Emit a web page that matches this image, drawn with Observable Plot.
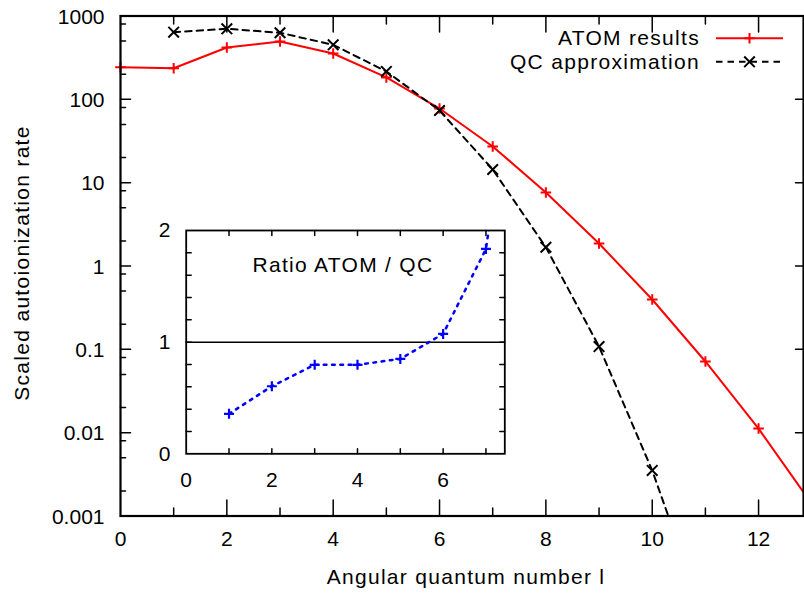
<!DOCTYPE html>
<html>
<head>
<meta charset="utf-8">
<script src="https://cdn.jsdelivr.net/npm/d3@7"></script>
<script src="https://cdn.jsdelivr.net/npm/@observablehq/plot@0.6"></script>
<style>
  body { margin: 0; background: #fff; }
  #wrap { position: relative; width: 804px; height: 593px; overflow: hidden; background: #fff; }
  #wrap svg { position: absolute; }
  .legend text { letter-spacing: 1.3px; }
</style>
</head>
<body>
<div id="wrap"></div>
<script>
// ---------------- data ----------------
const atomL = [0, 1, 2, 3, 4, 5, 6, 7, 8, 9, 10, 11, 12, 13];
const atomV = [243, 236, 419, 494, 355, 183, 77.6, 27.2, 7.62, 1.86, 0.396, 0.0715, 0.0112, 0.0014];
const qcL = [1, 2, 3, 4, 5, 6, 7, 8, 9, 10, 11];
const qcV = [640, 702, 629, 451, 216, 73.5, 14.4, 1.68, 0.108, 0.00352, 0.000055];
const ratioL = [1, 2, 3, 4, 5, 6, 7, 8];
const ratioV = [0.358, 0.605, 0.797, 0.797, 0.850, 1.074, 1.835, 4.5];

const seriesNames = ["ATOM results", "QC approximation"];
const insetTitle = "Ratio ATOM / QC";
const xTitle = "Angular quantum number l";
const yTitle = "Scaled autoionization rate";

const yTickValues = [0.001, 0.01, 0.1, 1, 10, 100, 1000];
const yTickLabels = ["0.001", "0.01", "0.1", "1", "10", "100", "1000"];
const yMinorMant = [2, 5, 8];
const xTickValues = [0, 2, 4, 6, 8, 10, 12];
const xAllTicks = [1, 2, 3, 4, 5, 6, 7, 8, 9, 10, 11, 12];

const insetXTickLabels = [0, 2, 4, 6];
const insetXTicks = [1, 2, 3, 4, 5, 6, 7];
const insetYTickLabels = [0, 1, 2];
const insetYTicks = [0.2, 0.4, 0.6, 0.8, 1, 1.2, 1.4, 1.6, 1.8];

// ---------------- styling ----------------
const RED = "#ff0000", BLACK = "#000000", BLUE = "#0000ff";
const fontFamily = '"Liberation Sans", Arial, Helvetica, sans-serif';
const xMax = 12.845, yMin = 0.001, yMax = 1000;
const ixMax = 7.44, iyMax = 2;

const atom = atomL.map((l, i) => ({l, v: atomV[i]}));
const qc = qcL.map((l, i) => ({l, v: qcV[i]}));
const ratio = ratioL.map((l, i) => ({l, v: ratioV[i]}));
const yTicks = yTickValues.map((v, i) => ({v, label: yTickLabels[i]}));
const yMinor = [];
for (let k = -3; k < 3; k++) for (const m of yMinorMant) yMinor.push(m * Math.pow(10, k));

const plusSym = (h) => ({draw(c) { c.moveTo(-h, 0); c.lineTo(h, 0); c.moveTo(0, -h); c.lineTo(0, h); }});
const timesSym = (h) => ({draw(c) { c.moveTo(-h, -h); c.lineTo(h, h); c.moveTo(-h, h); c.lineTo(h, -h); }});
const tickShape = {draw(c, l) { c.moveTo(0, 0); c.lineTo(0, -l); }};
const tk = (data, o) => Plot.vector(data, {shape: tickShape, anchor: "start", stroke: BLACK, strokeWidth: 1.5, ...o});

const inMain = d => d.l <= xMax && d.v >= yMin && d.v <= yMax;

// ---------------- main chart ----------------
const main = Plot.plot({
  width: 804, height: 593,
  marginLeft: 120, marginRight: 1, marginTop: 15.5, marginBottom: 77.5,
  x: {domain: [0, xMax], axis: null},
  y: {type: "log", domain: [yMin, yMax], axis: null},
  style: {fontFamily, fontSize: "21px", background: "transparent", overflow: "visible", color: BLACK},
  marks: [
    Plot.line(atom, {x: "l", y: "v", stroke: RED, strokeWidth: 2, clip: true}),
    Plot.line(qc, {x: "l", y: "v", stroke: BLACK, strokeWidth: 2, strokeDasharray: "6.5,5", clip: true}),
    Plot.dot(atom, {x: "l", y: "v", symbol: plusSym(5.3), fill: "none", stroke: RED, strokeWidth: 2, filter: inMain}),
    Plot.dot(qc, {x: "l", y: "v", symbol: timesSym(5.3), fill: "none", stroke: BLACK, strokeWidth: 2, filter: inMain}),
    // left ticks
    tk(yTickValues, {y: d => d, frameAnchor: "left", rotate: 90, length: 10}),
    tk(yMinor, {y: d => d, frameAnchor: "left", rotate: 90, length: 5}),
    // right ticks
    tk(yTickValues, {y: d => d, frameAnchor: "right", rotate: -90, length: 8}),
    // bottom ticks
    tk(xAllTicks, {x: d => d, frameAnchor: "bottom", rotate: 0, length: d => d % 2 === 0 ? 10 : 5}),
    // top ticks
    tk(xAllTicks, {x: d => d, frameAnchor: "top", rotate: 180, length: d => d % 2 === 0 ? 10 : 5}),
    // tick labels
    Plot.text(yTicks, {y: "v", text: "label", frameAnchor: "left", dx: -16, dy: 1, textAnchor: "end", lineAnchor: "middle", fontSize: 21}),
    Plot.text(xTickValues, {x: d => d, text: d => String(d), frameAnchor: "bottom", dy: 23, lineAnchor: "middle", fontSize: 21}),
    // titles
    Plot.text([xTitle], {text: d => d, frameAnchor: "bottom", dx: 4, dy: 61, textAnchor: "middle", lineAnchor: "middle", fontSize: 21}),
    Plot.text([yTitle], {text: d => d, frameAnchor: "left", dx: -98.7, dy: -3, rotate: -90, textAnchor: "middle", lineAnchor: "middle", fontSize: 21}),
    Plot.frame({stroke: BLACK, strokeWidth: 2.2})
  ]
});
main.style.left = "0px"; main.style.top = "0px";

// ---------------- inset ----------------
const iLeft = 130, iTop = 215;
const inset = Plot.plot({
  width: 390, height: 285,
  marginLeft: 55.7, marginRight: 15.7, marginTop: 15, marginBottom: 46.7,
  x: {domain: [0, ixMax], axis: null},
  y: {domain: [0, iyMax], axis: null},
  style: {fontFamily, fontSize: "21px", background: "transparent", overflow: "visible", color: BLACK},
  marks: [
    Plot.ruleY([1], {stroke: BLACK, strokeWidth: 1.5}),
    Plot.line(ratio, {x: "l", y: "v", stroke: BLUE, strokeWidth: 2.5, strokeDasharray: "2.7,5.6", clip: true}),
    Plot.dot(ratio, {x: "l", y: "v", symbol: plusSym(5), fill: "none", stroke: BLUE, strokeWidth: 2.2, filter: d => d.l <= ixMax && d.v <= iyMax}),
    tk(insetYTicks, {y: d => d, frameAnchor: "left", rotate: 90, length: 5}),
    tk(insetYTicks, {y: d => d, frameAnchor: "right", rotate: -90, length: 5}),
    tk(insetXTicks, {x: d => d, frameAnchor: "bottom", rotate: 0, length: 5}),
    tk(insetXTicks, {x: d => d, frameAnchor: "top", rotate: 180, length: 5}),
    Plot.text(insetYTickLabels, {y: d => d, text: d => String(d), frameAnchor: "left", dx: -15.7, textAnchor: "end", lineAnchor: "middle", fontSize: 21}),
    Plot.text(insetXTickLabels, {x: d => d, text: d => String(d), frameAnchor: "bottom", dy: 26.7, lineAnchor: "middle", fontSize: 21}),
    Plot.text([insetTitle], {text: d => d, frameAnchor: "top", dx: -2.5, dy: 35, textAnchor: "middle", lineAnchor: "middle", fontSize: 21}),
    Plot.frame({stroke: BLACK, strokeWidth: 1.8})
  ]
});
inset.style.left = iLeft + "px"; inset.style.top = iTop + "px";

// wider letter spacing on the word labels (as in the original rendering)
const spaced = [xTitle, yTitle, insetTitle];
for (const svg of [main, inset]) {
  d3.select(svg).selectAll("text")
    .filter(function () { return spaced.includes(this.textContent); })
    .attr("letter-spacing", "1.3px");
}

// ---------------- legend ----------------
const legendRows = [
  {name: seriesNames[0], color: RED, dash: null, sym: "plus", y: 38.3},
  {name: seriesNames[1], color: BLACK, dash: "6.5,5", sym: "times", y: 61.8}
];
const leg = d3.create("svg").attr("class", "legend")
  .attr("width", 804).attr("height", 100)
  .style("left", "0px").style("top", "0px")
  .style("font-family", fontFamily).style("font-size", "21px")
  .style("pointer-events", "none");
for (const r of legendRows) {
  leg.append("text").attr("x", 700).attr("y", r.y).attr("dy", "0.32em")
    .attr("text-anchor", "end").attr("fill", BLACK).text(r.name);
  leg.append("line").attr("x1", 716).attr("x2", 783).attr("y1", r.y).attr("y2", r.y)
    .attr("stroke", r.color).attr("stroke-width", 2).attr("stroke-dasharray", r.dash);
  const s = r.sym === "plus" ? plusSym(5.3) : timesSym(5.3);
  const p = d3.path(); s.draw(p);
  leg.append("path").attr("d", p.toString()).attr("transform", `translate(749.5,${r.y})`)
    .attr("stroke", r.color).attr("stroke-width", 2).attr("fill", "none");
}

const wrap = document.getElementById("wrap");
wrap.appendChild(main);
wrap.appendChild(inset);
wrap.appendChild(leg.node());
</script>
</body>
</html>
